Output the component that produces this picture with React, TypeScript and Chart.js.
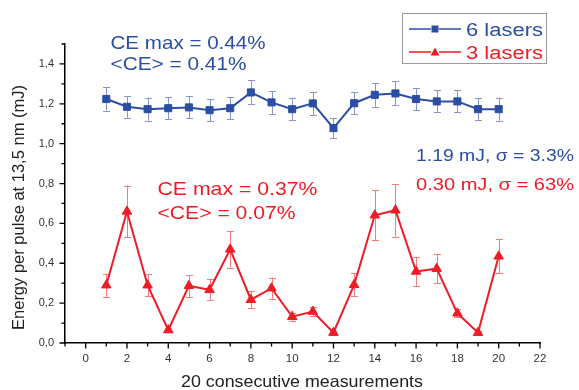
import React, { useEffect, useRef } from "react";
import { Chart, registerables } from "chart.js";

Chart.register(...registerables);

// ---- data ----
const measurements = [1, 2, 3, 4, 5, 6, 7, 8, 9, 10, 11, 12, 13, 14, 15, 16, 17, 18, 19, 20];
const sixLasers = [1.224, 1.185, 1.173, 1.178, 1.182, 1.168, 1.178, 1.257, 1.207, 1.173, 1.202, 1.078, 1.203, 1.245, 1.252, 1.224, 1.212, 1.212, 1.173, 1.173];
const sixLasersErr = [0.058, 0.055, 0.058, 0.055, 0.055, 0.055, 0.055, 0.06, 0.058, 0.055, 0.058, 0.05, 0.055, 0.06, 0.06, 0.055, 0.055, 0.055, 0.055, 0.058];
const threeLasers = [0.29, 0.66, 0.29, 0.065, 0.287, 0.267, 0.47, 0.217, 0.275, 0.132, 0.158, 0.052, 0.292, 0.641, 0.666, 0.359, 0.373, 0.149, 0.052, 0.435];
const threeLasersErr = [0.058, 0.13, 0.055, 0.01, 0.055, 0.052, 0.092, 0.042, 0.053, 0.02, 0.025, 0.008, 0.058, 0.126, 0.132, 0.072, 0.073, 0.02, 0.006, 0.085];
const seriesNames = ["6 lasers", "3 lasers"];
const xMin = -1;
const xMax = 22;
const yMin = 0;
const yMax = 1.5;
const xTitle = "20 consecutive measurements";
const yTitle = "Energy per pulse at 13,5 nm (mJ)";
const blueNotes = ["CE max = 0.44%", "<CE> = 0.41%"];
const redNotes = ["CE max = 0.37%", "<CE> = 0.07%"];
const statNotes = ["1.19 mJ, \u03c3 = 3.3%", "0.30 mJ, \u03c3 = 63%"];

// ---- styles ----
const FONT = '"Liberation Sans", Arial, sans-serif';
const BLUE = "#2b4ea3";
const RED = "#ee1c25";
const BLUE_ERR = "#8794cb";
const RED_ERR = "#f37b7b";

function fitText(
  ctx: CanvasRenderingContext2D,
  text: string,
  x: number,
  baseline: number,
  size: number,
  color: string,
  width: number,
  rotate = false
) {
  ctx.save();
  ctx.font = `${size}px ${FONT}`;
  ctx.fillStyle = color;
  ctx.textAlign = "left";
  ctx.textBaseline = "alphabetic";
  const w = ctx.measureText(text).width;
  const sx = width ? width / w : 1;
  ctx.translate(x, baseline);
  if (rotate) ctx.rotate(-Math.PI / 2);
  ctx.scale(sx, 1);
  ctx.fillText(text, 0, 0);
  ctx.restore();
}

const decorPlugin = {
  id: "decor",
  beforeDatasetsDraw(chart: any) {
    const { ctx, scales } = chart;
    const xs = scales.x;
    const ys = scales.y;
    const sets = [
      { v: sixLasers, e: sixLasersErr, c: BLUE_ERR },
      { v: threeLasers, e: threeLasersErr, c: RED_ERR },
    ];
    ctx.save();
    ctx.lineWidth = 1;
    for (const s of sets) {
      ctx.strokeStyle = s.c;
      for (let i = 0; i < measurements.length; i++) {
        const px = Math.round(xs.getPixelForValue(measurements[i])) + 0.5;
        const top = ys.getPixelForValue(s.v[i] + s.e[i]);
        const bot = ys.getPixelForValue(s.v[i] - s.e[i]);
        ctx.beginPath();
        ctx.moveTo(px, top);
        ctx.lineTo(px, bot);
        ctx.moveTo(px - 3.5, Math.round(top) + 0.5);
        ctx.lineTo(px + 3.5, Math.round(top) + 0.5);
        ctx.moveTo(px - 3.5, Math.round(bot) + 0.5);
        ctx.lineTo(px + 3.5, Math.round(bot) + 0.5);
        ctx.stroke();
      }
    }
    ctx.restore();
  },
  afterDraw(chart: any) {
    const { ctx, scales, chartArea } = chart;
    const xs = scales.x;
    const ys = scales.y;
    // tick marks
    ctx.save();
    ctx.strokeStyle = "#000";
    ctx.lineWidth = 1.3;
    ctx.beginPath();
    for (let v = xMin; v <= xMax; v++) {
      const px = xs.getPixelForValue(v);
      const len = v % 2 === 0 ? 5.5 : 3.5;
      ctx.moveTo(px, chartArea.bottom);
      ctx.lineTo(px, chartArea.bottom + len);
    }
    for (let k = 0; k <= Math.round((yMax - yMin) * 10); k++) {
      const v = yMin + k / 10;
      const py = ys.getPixelForValue(v);
      const len = k % 2 === 0 ? 5.5 : 3.5;
      ctx.moveTo(chartArea.left, py);
      ctx.lineTo(chartArea.left - len, py);
    }
    ctx.stroke();
    ctx.restore();

    // axis titles
    fitText(ctx, xTitle, 181, 387, 16.5, "#222", 242);
    fitText(ctx, yTitle, 24, 330, 16.5, "#222", 245, true);

    // annotations
    fitText(ctx, blueNotes[0], 110.5, 48.5, 18.5, BLUE, 155);
    fitText(ctx, blueNotes[1], 110.5, 69.5, 18.5, BLUE, 136);
    fitText(ctx, redNotes[0], 157.5, 194.5, 19, RED, 160);
    fitText(ctx, redNotes[1], 157.5, 218.5, 19, RED, 138);
    fitText(ctx, statNotes[0], 416, 161, 17, BLUE, 158);
    fitText(ctx, statNotes[1], 416, 190, 17, RED, 158);

    // legend
    ctx.save();
    ctx.strokeStyle = "#9a9a9a";
    ctx.lineWidth = 1;
    ctx.strokeRect(402.5, 13.5, 144, 50);
    const rows = [
      { y: 29, c: BLUE, name: seriesNames[0], tri: false },
      { y: 52, c: RED, name: seriesNames[1], tri: true },
    ];
    for (const r of rows) {
      ctx.strokeStyle = r.c;
      ctx.fillStyle = r.c;
      ctx.lineWidth = 1.5;
      ctx.beginPath();
      ctx.moveTo(409, r.y);
      ctx.lineTo(431, r.y);
      ctx.moveTo(439, r.y);
      ctx.lineTo(461, r.y);
      ctx.stroke();
      if (r.tri) {
        ctx.beginPath();
        ctx.moveTo(435, r.y - 4.5);
        ctx.lineTo(439.5, r.y + 3.5);
        ctx.lineTo(430.5, r.y + 3.5);
        ctx.closePath();
        ctx.fill();
      } else {
        ctx.fillRect(431.5, r.y - 3.5, 7, 7);
      }
      fitText(ctx, r.name, 466, r.y + 6.5, 18, r.c, 77);
    }
    ctx.restore();
  },
};

export default function App() {
  const ref = useRef<HTMLCanvasElement | null>(null);
  useEffect(() => {
    if (!ref.current) return;
    const chart = new Chart(ref.current, {
      type: "line",
      data: {
        datasets: [
          {
            label: seriesNames[0],
            data: measurements.map((m, i) => ({ x: m, y: sixLasers[i] })),
            borderColor: BLUE,
            backgroundColor: BLUE,
            borderWidth: 2,
            pointStyle: "rect",
            pointRadius: 5,
            pointBorderWidth: 1,
            pointBorderColor: BLUE,
            pointBackgroundColor: BLUE,
            tension: 0,
          },
          {
            label: seriesNames[1],
            data: measurements.map((m, i) => ({ x: m, y: threeLasers[i] })),
            borderColor: RED,
            backgroundColor: RED,
            borderWidth: 2,
            pointStyle: "triangle",
            pointRadius: 5.5,
            pointBorderWidth: 1,
            pointBorderColor: RED,
            pointBackgroundColor: RED,
            tension: 0,
          },
        ],
      },
      options: {
        responsive: false,
        animation: false,
        events: [],
        layout: { padding: { left: 0, top: 44, right: 39, bottom: 0 } },
        plugins: { legend: { display: false }, tooltip: { enabled: false } },
        scales: {
          x: {
            type: "linear",
            min: xMin,
            max: xMax,
            afterFit: (s: any) => {
              s.height = 47;
            },
            grid: { display: false, drawTicks: false },
            border: { display: true, color: "#000", width: 1.5 },
            ticks: {
              stepSize: 1,
              autoSkip: false,
              maxRotation: 0,
              padding: 9,
              color: "#333",
              font: { family: FONT, size: 11.5 },
              callback: (v: any) => (Number(v) % 2 === 0 ? String(v) : ""),
            },
          },
          y: {
            type: "linear",
            min: yMin,
            max: yMax,
            afterFit: (s: any) => {
              s.width = 65;
            },
            grid: { display: false, drawTicks: false },
            border: { display: true, color: "#000", width: 1.5 },
            ticks: {
              stepSize: 0.1,
              autoSkip: false,
              padding: 11,
              color: "#333",
              font: { family: FONT, size: 11 },
              callback: (v: any) => {
                const k = Math.round(Number(v) * 10);
                return k % 2 === 0 ? (k / 10).toFixed(1).replace(".", ",") : "";
              },
            },
          },
        },
      },
      plugins: [decorPlugin],
    } as any);
    return () => chart.destroy();
  }, []);
  return (
    <div style={{ position: "absolute", left: 0, top: 0, width: 579, height: 390, background: "#fff" }}>
      <canvas ref={ref} width={579} height={390} style={{ display: "block", width: 579, height: 390 }} />
    </div>
  );
}
